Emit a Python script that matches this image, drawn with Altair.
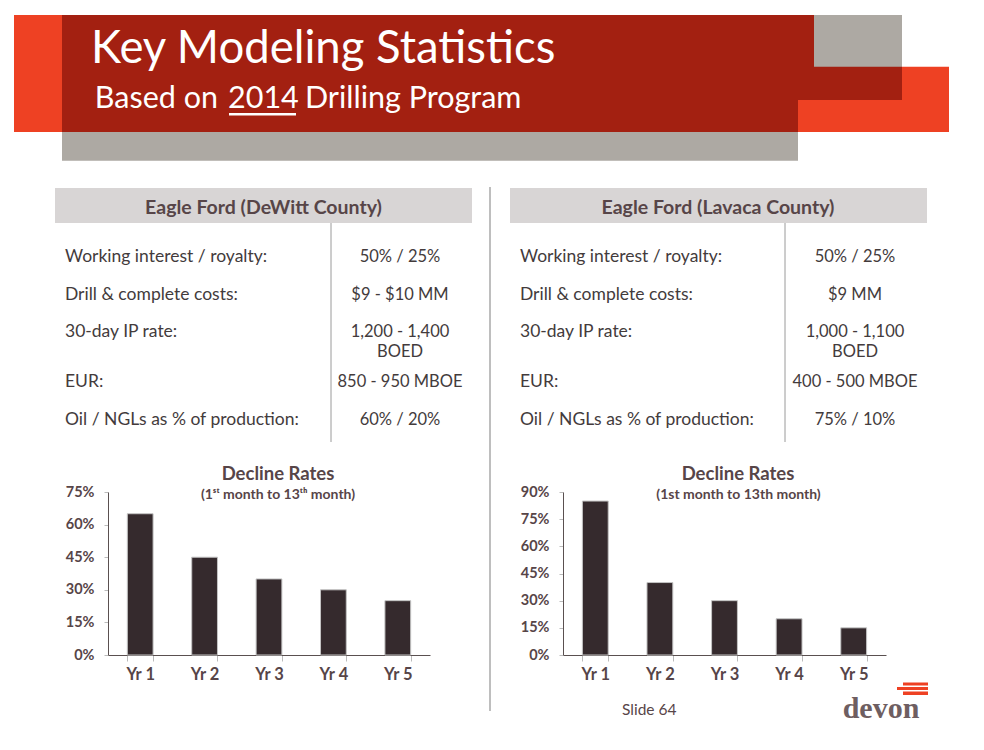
import altair as alt
import pandas as pd

# ---------------- data ----------------
row_labels = [
    "Working interest / royalty:",
    "Drill & complete costs:",
    "30-day IP rate:",
    "EUR:",
    "Oil / NGLs as % of production:",
]
dewitt_values = ["50% / 25%", "$9 - $10 MM", "1,200 - 1,400\nBOED", "850 - 950 MBOE", "60% / 20%"]
lavaca_values = ["50% / 25%", "$9 MM", "1,000 - 1,100\nBOED", "400 - 500 MBOE", "75% / 10%"]

years = ["Yr 1", "Yr 2", "Yr 3", "Yr 4", "Yr 5"]
dewitt_decline = [0.65, 0.45, 0.35, 0.30, 0.25]
lavaca_decline = [0.85, 0.40, 0.30, 0.20, 0.15]
dewitt_ticks = [0, 0.15, 0.30, 0.45, 0.60, 0.75]
lavaca_ticks = [0, 0.15, 0.30, 0.45, 0.60, 0.75, 0.90]

title_text = "Key Modeling Statistics"
subtitle_parts = ["Based on", "2014", "Drilling Program"]
left_header = "Eagle Ford (DeWitt County)"
right_header = "Eagle Ford (Lavaca County)"
chart_title = "Decline Rates"
left_sub = "(1\u02e2\u1d57 month to 13\u1d57\u02b0 month)"
right_sub = "(1st month to 13th month)"
footer_text = "Slide 64"
logo_text = "devon"

# ---------------- style ----------------
FONT = "Lato"
ORANGE = "#EE4123"
DARKRED = "#A32011"
GRAY = "#ADA9A3"
MAUVE = "#574548"
TEXT = "#433B3C"
BAR = "#352A2D"
HDRBOX = "#D8D5D5"

OX, OY = 8, 8  # page margin


def px(x):
    return x - OX


def py(y):
    return y - OY


one = pd.DataFrame({"a": [0]})


def txt(t, x, y, size, color, weight="normal", align="left", font=FONT):
    return alt.Chart(one).mark_text(
        text=t, fontSize=size, color=color, fontWeight=weight, align=align,
        baseline="alphabetic", font=font,
    ).encode(x=alt.value(px(x)), y=alt.value(py(y)))


# decorative shapes (page coordinates)
shapes = pd.DataFrame([
    (798, 949, 66.7, 132, ORANGE),
    (62, 798, 15, 132, DARKRED),
    (798, 902, 15, 100, DARKRED),
    (814, 902, 15, 66.7, GRAY),
    (62, 798, 132, 160.7, GRAY),
    (14, 62, 15, 132, ORANGE),
    (229, 296, 113, 115.5, "#FFFFFF"),
    (55, 472, 188, 223, HDRBOX),
    (510, 927, 188, 223, HDRBOX),
    (903, 928, 682.5, 685.5, ORANGE),
    (897, 928, 687, 690, ORANGE),
    (903, 928, 691.5, 695, ORANGE),
], columns=["x0", "x1", "y0", "y1", "fill"])
shapes["x0"] = shapes["x0"].map(px)
shapes["x1"] = shapes["x1"].map(px)
shapes["y0"] = shapes["y0"].map(py)
shapes["y1"] = shapes["y1"].map(py)

rects = alt.Chart(shapes).mark_rect().encode(
    x=alt.X("x0:Q", scale=None), x2="x1:Q",
    y=alt.Y("y0:Q", scale=None), y2="y1:Q",
    fill=alt.Fill("fill:N", scale=None),
)

rules = pd.DataFrame([
    (490, 187, 711, "#A8A8A8", 1.5),
    (331, 223, 442, "#9A9A9A", 1.0),
    (785, 223, 442, "#9A9A9A", 1.0),
], columns=["x", "y0", "y1", "c", "w"])
rules["x"] = rules["x"].map(px)
rules["y0"] = rules["y0"].map(py)
rules["y1"] = rules["y1"].map(py)
rule_layer = alt.Chart(rules).mark_rule().encode(
    x=alt.X("x:Q", scale=None),
    y=alt.Y("y0:Q", scale=None), y2="y1:Q",
    color=alt.Color("c:N", scale=None),
    strokeWidth=alt.StrokeWidth("w:Q", scale=None),
)

# table text
lab_rows, val_rows = [], []
extra = 0
for i, (lab, lv, rv) in enumerate(zip(row_labels, dewitt_values, lavaca_values)):
    base = 262 + 37.5 * i + 12.5 * extra
    lab_rows.append((lab, px(65), py(base)))
    lab_rows.append((lab, px(520), py(base)))
    for j, line in enumerate(lv.split("\n")):
        val_rows.append((line, px(400), py(base + 20 * j)))
    for j, line in enumerate(rv.split("\n")):
        val_rows.append((line, px(855), py(base + 20 * j)))
    extra += len(lv.split("\n")) - 1

lab_df = pd.DataFrame(lab_rows, columns=["t", "x", "y"])
val_df = pd.DataFrame(val_rows, columns=["t", "x", "y"])

lab_layer = alt.Chart(lab_df).mark_text(
    fontSize=17.5, color=TEXT, align="left", baseline="alphabetic", font=FONT
).encode(x=alt.X("x:Q", scale=None), y=alt.Y("y:Q", scale=None), text="t:N")
val_layer = alt.Chart(val_df).mark_text(
    fontSize=16.5, color=TEXT, align="center", baseline="alphabetic", font=FONT
).encode(x=alt.X("x:Q", scale=None), y=alt.Y("y:Q", scale=None), text="t:N")

panel_a = alt.layer(
    rects,
    rule_layer,
    txt(title_text, 91, 62.7, 45.5, "white"),
    txt(subtitle_parts[0], 218, 108, 30.5, "white", align="right"),
    txt(subtitle_parts[1], 228, 108, 30.5, "white"),
    txt(subtitle_parts[2], 305, 108, 30.5, "white"),
    txt(left_header, 263.5, 213.5, 19.5, MAUVE, weight="bold", align="center"),
    txt(right_header, 718, 213.5, 19.5, MAUVE, weight="bold", align="center"),
    lab_layer,
    val_layer,
    txt(chart_title, 278, 479.5, 18.5, MAUVE, weight="bold", align="center"),
    txt(left_sub, 278, 498.5, 14, MAUVE, weight="bold", align="center"),
    txt(chart_title, 738, 479.5, 18.5, MAUVE, weight="bold", align="center"),
    txt(right_sub, 738.5, 498.5, 14, MAUVE, weight="bold", align="center"),
    txt(footer_text, 622, 715, 15.5, MAUVE),
    txt(logo_text, 881, 718, 30, "#6E5E61", weight="bold", align="center",
        font="Liberation Serif"),
).properties(width=968, height=484)


def bar_chart(vals, ticks, width):
    df = pd.DataFrame({"year": years, "rate": vals})
    return alt.Chart(df).mark_bar(fill=BAR, stroke="#C4C4C4", strokeWidth=1).encode(
        x=alt.X(
            "year:N", sort=years,
            scale=alt.Scale(paddingInner=0.6, paddingOuter=0.3),
            axis=alt.Axis(
                title=None, labelAngle=0, tickBand="extent", tickSize=6,
                tickColor="#BBBBBB", domainColor="#5A5050", labelFont=FONT,
                labelFontWeight="bold", labelFontSize=16.5, labelColor=MAUVE,
                labelPadding=5,
            ),
        ),
        y=alt.Y(
            "rate:Q",
            scale=alt.Scale(domain=[0, ticks[-1]], nice=False),
            axis=alt.Axis(
                title=None, values=ticks, format=".0%", grid=False, tickSize=4,
                tickColor="#BBBBBB", domainColor="#5A5050", labelFont=FONT,
                labelFontWeight="bold", labelFontSize=14.5, labelColor=MAUVE,
                labelPadding=10,
            ),
        ),
    ).properties(width=width, height=163)


def spacer(w):
    return alt.Chart(one).mark_text(text=" ").encode(
        x=alt.value(0), y=alt.value(0)
    ).properties(width=w, height=163)


row_b = alt.hconcat(
    spacer(100),
    bar_chart(dewitt_decline, dewitt_ticks, 322),
    spacer(133),
    bar_chart(lavaca_decline, lavaca_ticks, 323),
    spacing=0, bounds="flush",
)

chart = alt.vconcat(panel_a, row_b, spacing=0, bounds="flush", padding=0).configure_view(
    stroke=None
)

chart.save("out.html", embed_options={"renderer": "svg", "actions": False})
